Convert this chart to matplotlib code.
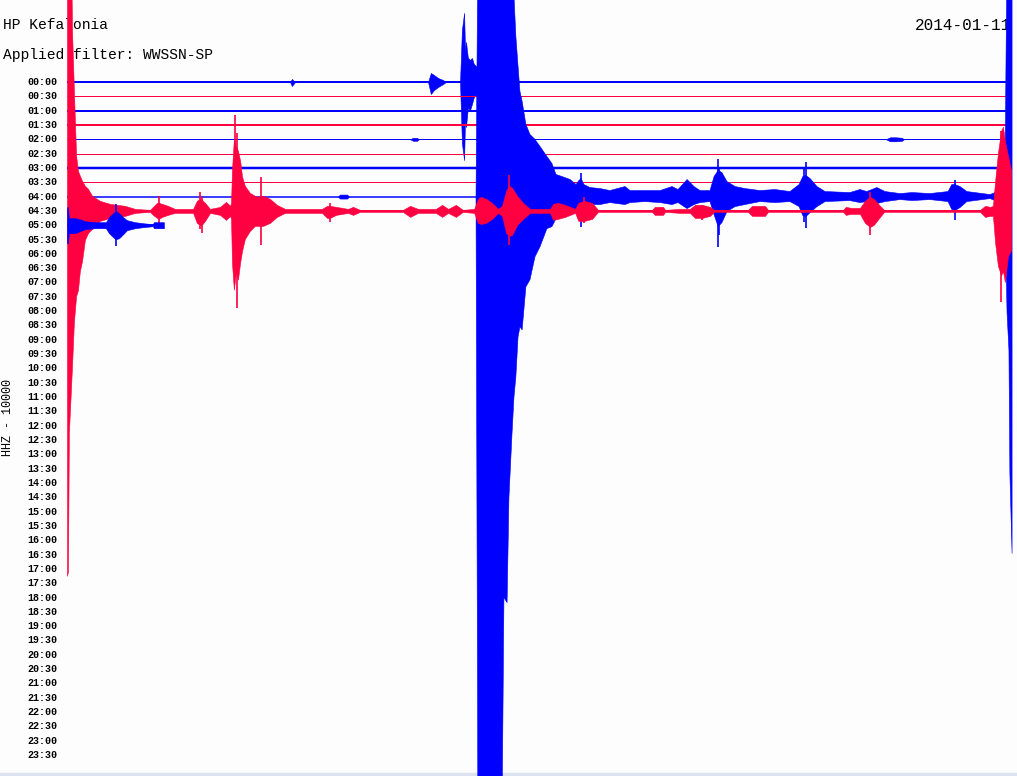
import matplotlib
matplotlib.use("Agg")
import matplotlib.pyplot as plt
from matplotlib.patches import Rectangle

# helicorder page, one trace every 30 minutes, 10000 counts between traces
station = "HP Kefalonia"
day = "2014-01-11"
filter_text = "Applied filter: WWSSN-SP"
channel = "HHZ - 10000"
counts_per_trace = 10000
minutes_per_trace = 30

row_labels = ["%02d:%02d" % (h, m) for h in range(24) for m in (0, 30)]
trace_colors = ["#0000ff", "#ff0040"]

# how far each recorded trace runs (minutes), only the first 11 rows have data
trace_end = [30, 30, 30, 30, 30, 30, 30, 30, 30.1, 30.1, 3.09]
trace_width = [2, 1, 2, 2, 1, 1, 2.5, 1, 1.5, 2, 1.5]

# bursts per trace: (minute, counts above, counts below)
bursts_0000 = [
    [(7.11, 0, 0), (7.17, 2100, 2800), (7.27, 0, 0)],
    [(11.51, 0, 0), (11.60, 6300, 8400), (11.70, 4900, 5600), (11.83, 2800, 3500),
     (11.99, 1400, 1400), (12.08, 0, 0)],
    [(12.53, 0, 0), (12.59, 36400, 42700), (12.66, 48300, 54600), (12.69, 22000, 26000),
     (12.72, 28000, 31500), (12.78, 17000, 18000), (12.85, 15400, 19600), (12.91, 16800, 15400),
     (12.97, 12600, 10500), (13.07, 10500, 8400), (13.13, 0, 0)],
]

bursts_0200 = [
    [(10.94, 0, 0), (11.03, 1050, 1050), (11.16, 1050, 1050), (11.22, 0, 0)],
    [(26.11, 0, 0), (26.24, 1400, 1400), (26.43, 1400, 1400), (26.62, 1050, 1050), (26.68, 0, 0)],
]

bursts_0400 = [
    [(8.64, 0, 0), (8.70, 1400, 1400), (8.93, 1400, 1400), (8.99, 0, 0)],
    [(13.04, 0, 0), (13.10, 175000, 434000), (13.87, 175000, 434000), (13.93, 175000, 280000),
     (14.03, 175000, 283500), (14.09, 175000, 210000), (14.19, 168000, 164500),
     (14.25, 140000, 140000), (14.31, 112000, 126000), (14.38, 91000, 98000),
     (14.44, 73500, 91000), (14.51, 66500, 93100), (14.63, 50400, 63000),
     (14.76, 43400, 58100), (14.92, 39900, 42000), (15.08, 35000, 35000),
     (15.30, 28000, 22400), (15.46, 23100, 21000), (15.59, 15400, 15400),
     (15.78, 14000, 14000), (16.04, 11900, 12600), (16.23, 8400, 8400),
     (16.32, 11200, 12600), (16.39, 12600, 14000), (16.48, 8400, 9800),
     (16.67, 6300, 5600), (16.99, 5600, 5600), (17.31, 4200, 4200), (17.79, 7000, 5600),
     (17.95, 4200, 4200), (18.43, 4200, 3500), (18.91, 4200, 4200), (19.29, 7000, 5600),
     (19.48, 4900, 4200), (19.77, 11900, 8400), (19.99, 7000, 5600), (20.18, 4200, 4200),
     (20.50, 4200, 3500), (20.63, 14000, 12600), (20.76, 18200, 21000),
     (20.88, 16800, 18200), (21.04, 10500, 10500), (21.30, 7000, 7000),
     (21.61, 5600, 5600), (22.09, 4200, 3500), (22.57, 4900, 4200), (23.05, 3500, 3500),
     (23.34, 8400, 7000), (23.46, 14000, 13300), (23.56, 14700, 14000),
     (23.69, 12600, 11200), (23.91, 7000, 7000), (24.17, 3500, 3500), (24.96, 2800, 2800),
     (25.28, 4900, 4200), (25.50, 3500, 3500), (25.82, 6300, 4900), (26.08, 3500, 3500),
     (26.56, 2100, 2100), (26.94, 2800, 2800), (27.51, 2100, 2100), (28.09, 3500, 3500),
     (28.21, 8400, 9100), (28.31, 8400, 9800), (28.47, 7000, 7700),
     (28.69, 3500, 3500), (29.43, 1400, 1400), (29.90, 5600, 5600),
     (29.97, 175000, 81200), (30.03, 175000, 107100), (30.06, 175000, 193200),
     (30.13, 175000, 249200)],
]

bursts_0430 = [
    [(0.00, 182000, 254800), (0.03, 182000, 252000), (0.06, 182000, 155400),
     (0.10, 182000, 136500), (0.13, 182000, 122500), (0.16, 126000, 108500),
     (0.22, 84000, 77700), (0.29, 38500, 59500), (0.35, 28000, 55300), (0.41, 24500, 42000),
     (0.48, 21000, 35000), (0.57, 17500, 20300), (0.67, 15400, 15400), (0.80, 10500, 12600),
     (1.05, 7000, 7000), (1.37, 4900, 4900), (1.85, 3500, 3500), (2.17, 1400, 1400),
     (2.65, 700, 700), (2.74, 2800, 2800), (2.87, 5600, 4900), (2.93, 5600, 5600),
     (3.03, 4900, 4200), (3.22, 3500, 2800), (3.44, 1400, 1400), (4.02, 1400, 1400),
     (4.14, 7000, 8400), (4.24, 8400, 9800), (4.30, 7700, 9800), (4.40, 5600, 7000),
     (4.56, 1400, 1400), (4.88, 2800, 2800), (5.07, 6300, 6300), (5.20, 3500, 3500),
     (5.23, 5600, 5600), (5.26, 28700, 36400), (5.32, 50000, 55000), (5.39, 45000, 42000),
     (5.45, 42000, 48000), (5.52, 35000, 36000), (5.58, 24000, 28000), (5.67, 17500, 19600),
     (5.83, 12600, 14000), (5.99, 10500, 10500), (6.12, 9800, 10500), (6.18, 10500, 10500),
     (6.25, 10500, 10500), (6.47, 8400, 8400), (6.69, 4200, 4200), (6.95, 1400, 1400),
     (8.13, 1400, 1400), (8.29, 3500, 4900), (8.38, 3500, 4900), (8.58, 2800, 2800),
     (8.96, 1400, 1400), (9.12, 2800, 2800), (9.34, 700, 700), (10.71, 700, 700),
     (10.94, 3500, 4200), (11.19, 1400, 1400), (11.76, 1400, 1400), (11.96, 4200, 4200),
     (12.15, 1400, 1400), (12.40, 4200, 4200), (12.62, 700, 700), (12.98, 1400, 1400),
     (13.10, 8400, 8400), (13.20, 9800, 9100), (13.36, 8400, 8400), (13.55, 5600, 5600),
     (13.74, 1400, 1400), (13.87, 3500, 3500), (14.00, 14000, 15400), (14.09, 17500, 17500),
     (14.19, 16100, 16800), (14.35, 10500, 9800), (14.54, 5600, 5600), (14.76, 1400, 1400),
     (15.40, 1400, 1400), (15.50, 4900, 6300), (15.65, 5600, 5600), (15.88, 4200, 4200),
     (16.20, 1400, 1400), (16.30, 5600, 7000), (16.49, 7000, 7000), (16.74, 5600, 5600),
     (16.93, 700, 700), (18.65, 700, 700), (18.74, 2800, 2800), (19.00, 2800, 2800),
     (19.07, 700, 700), (19.54, 1400, 1400), (19.86, 1400, 1400), (20.02, 4200, 4900),
     (20.25, 4200, 4900), (20.50, 2800, 3500), (20.63, 700, 700), (21.71, 700, 700),
     (21.84, 3500, 3500), (22.25, 3500, 3500), (22.35, 700, 700), (24.74, 700, 700),
     (24.83, 2800, 2800), (24.99, 2100, 2100), (25.28, 2100, 2100), (25.44, 7000, 8400),
     (25.60, 9800, 11200), (25.72, 8400, 9800), (25.92, 3500, 4200), (26.05, 700, 700),
     (29.11, 700, 700), (29.27, 3500, 4200), (29.43, 2800, 3500), (29.52, 3500, 3500),
     (29.59, 21000, 22400), (29.68, 40600, 38500), (29.78, 56000, 45000),
     (29.84, 58800, 42000), (29.90, 49000, 49700), (30.00, 38500, 31500),
     (30.10, 28000, 27300)],
]

bursts_0500 = [
    [(0.00, 12600, 12600), (0.03, 12600, 12600), (0.06, 4900, 5600), (0.26, 4900, 5600),
     (0.41, 4200, 4200), (0.57, 2800, 2800), (0.89, 2100, 2100), (1.24, 2100, 2100),
     (1.34, 5600, 5600), (1.47, 8400, 8400), (1.56, 9800, 9800), (1.66, 8400, 9100),
     (1.79, 5600, 6300), (1.91, 3500, 3500), (2.17, 2100, 2100), (2.42, 1400, 1400),
     (2.74, 700, 700), (2.77, 2100, 2100), (3.09, 2100, 2100)],
]

# single tall spikes standing out of the bursts: (minute, counts above, counts below)
spikes_0400 = [(16.39, 16800, 21000), (20.76, 25900, 35000), (20.80, 19600, 26600),
               (23.56, 23800, 21700), (23.50, 19600, 17500), (28.31, 11900, 16100)]
spikes_0430 = [(2.93, 10500, 8400), (4.24, 13300, 12600), (4.30, 9800, 15400),
               (5.36, 67200, 45500), (5.43, 54600, 67900), (6.18, 23800, 23800),
               (8.38, 5600, 7700), (14.09, 25200, 23800), (16.49, 9800, 8400),
               (20.25, 4200, 6300), (25.60, 13300, 16800), (29.79, 56000, 63700)]
spikes_0500 = [(1.56, 14700, 14700)]

bursts = {0: bursts_0000, 4: bursts_0200, 8: bursts_0400, 9: bursts_0430, 10: bursts_0500}
spikes = {8: spikes_0400, 9: spikes_0430, 10: spikes_0500}

fig = plt.figure(figsize=(10.17, 7.76), dpi=100, facecolor="#fdfdfd")
ax = fig.add_axes([67 / 1017, 0, 946 / 1017, 1])
ax.set_xlim(0, minutes_per_trace * 946 / 941)
ax.set_ylim(694 / 14.32, -82 / 14.32)
ax.axis("off")

for i in range(len(trace_end)):
    c = trace_colors[i % 2]
    ax.plot([0, min(trace_end[i], 30)], [i, i], color=c, lw=trace_width[i] * 0.72,
            solid_capstyle="butt", zorder=2 + 2 * i)
    for b in bursts.get(i, []):
        t = [p[0] for p in b]
        up = [i - p[1] / counts_per_trace for p in b]
        dn = [i + p[2] / counts_per_trace for p in b]
        ax.fill_between(t, up, dn, color=c, lw=0.4, zorder=3 + 2 * i)
    sp = spikes.get(i, [])
    if sp:
        ax.vlines([p[0] for p in sp], [i - p[1] / counts_per_trace for p in sp],
                  [i + p[2] / counts_per_trace for p in sp], color=c, lw=1.2,
                  zorder=3 + 2 * i)

plt.rcParams["font.family"] = ["Liberation Mono", "DejaVu Sans Mono"]

for i, lab in enumerate(row_labels):
    fig.text(57 / 1017, 1 - (82 + i * 14.32) / 776, lab, ha="right", va="center",
             fontsize=7.2, fontweight="bold", zorder=-1)

fig.text(3 / 1017, 1 - 25 / 776, station, ha="left", va="center", fontsize=10.5, zorder=-1)
fig.text(3 / 1017, 1 - 55 / 776, filter_text, ha="left", va="center", fontsize=10.5, zorder=-1)
fig.text(1011 / 1017, 1 - 25 / 776, day, ha="right", va="center", fontsize=11.5, zorder=-1)
fig.text(8 / 1017, 1 - 418 / 776, channel, ha="center", va="center", rotation=90,
         fontsize=8.5, zorder=-1)

fig.patches.append(Rectangle((0, 0), 1, 3 / 776, transform=fig.transFigure,
                             color="#dde3ee", zorder=-2))

fig.savefig("out.png", dpi=100, facecolor=fig.get_facecolor())
